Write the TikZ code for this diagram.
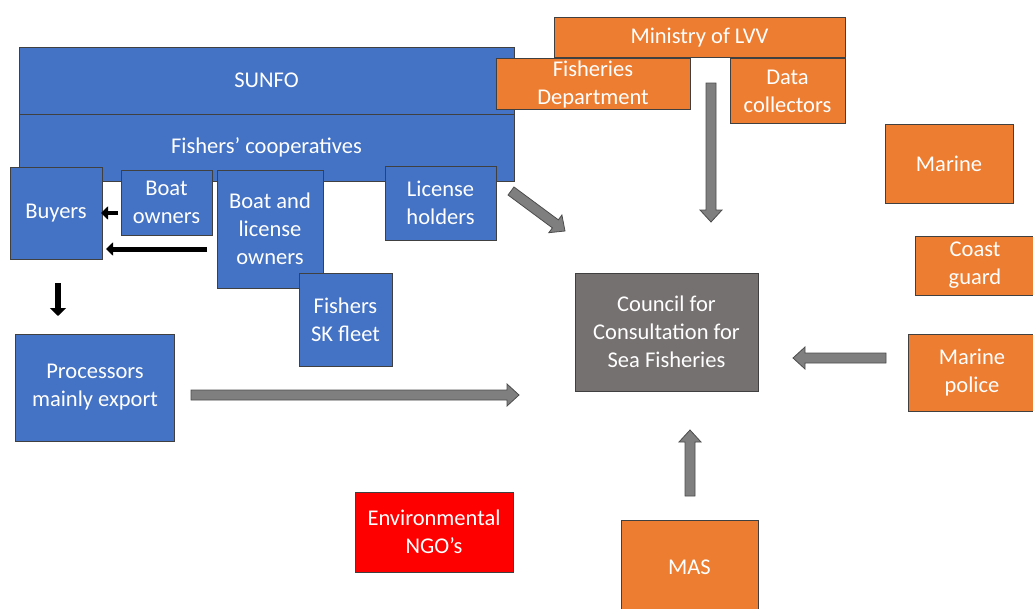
\documentclass[tikz,border=0pt]{standalone}
\usepackage{fontspec}
\setmainfont{Carlito}
\usepackage{xcolor}
\usepackage{tikz}
\usetikzlibrary{positioning,calc,arrows.meta}

\definecolor{boxblue}{HTML}{4472C4}
\definecolor{boxorange}{HTML}{ED7D31}
\definecolor{councilgray}{HTML}{767171}
\definecolor{arrowgray}{HTML}{7F7F7F}
\definecolor{ngored}{HTML}{FF0000}

\tikzset{
  box/.style={draw=black!75, line width=0.8pt, text=white, align=center, inner sep=0pt,
    font=\fontsize{22.5}{28}\selectfont},
  bluebox/.style={box, fill=boxblue},
  orangebox/.style={box, fill=boxorange},
  blackarrow/.style={line width=5pt, -{Triangle[width=13pt,length=7pt]}},
  blockarrow/.style={fill=arrowgray, draw=black!70, line width=0.8pt, line join=miter},
}

% gray block arrow from #1 to #2
\newcommand{\grayarrow}[2]{%
  \coordinate (ga-h) at ($(#2)!12pt!(#1)$);
  \draw[blockarrow] ($(#1)!5pt!90:(#2)$) -- ($(ga-h)!5pt!90:(#2)$) -- ($(ga-h)!11pt!90:(#2)$)
    -- (#2) -- ($(ga-h)!11pt!-90:(#2)$) -- ($(ga-h)!5pt!-90:(#2)$) -- ($(#1)!5pt!-90:(#2)$) -- cycle;}

\begin{document}
\begin{tikzpicture}[x=1pt, y=-1pt]

\useasboundingbox (0,0) rectangle (1033,608);

% Fishers' side
\node[bluebox, minimum width=495pt, minimum height=67pt] (sunfo) at (266.5,80.5) {SUNFO};
\node[bluebox, minimum width=495pt, minimum height=67pt] (coop) at (266.5,147.5) {Fishers’ cooperatives};
\node[bluebox, minimum width=92pt, minimum height=92pt] (buyers) at (56,213) {Buyers};
\node[bluebox, minimum width=91pt, minimum height=65pt] (boatown) at (166.5,202.5) {Boat\\owners};
\node[bluebox, minimum width=106pt, minimum height=118pt] (boatlic) at (270,229) {Boat and\\license\\owners};
\node[bluebox, minimum width=111pt, minimum height=74pt] (lichold) at (440.5,203) {License\\holders};
\node[bluebox, minimum width=93pt, minimum height=93pt] (skfleet) at (345.5,319.5) {Fishers\\SK fleet};
\node[bluebox, minimum width=159pt, minimum height=107pt] (proc) at (95,387.5) {Processors\\mainly export};

% Government side
\node[orangebox, minimum width=291pt, minimum height=40pt] (ministry) at (699.5,37.5) {Ministry of LVV};
\node[orangebox, minimum width=194pt, minimum height=51pt] (fishdep) at (593,84) {Fisheries\\Department};
\node[orangebox, minimum width=115pt, minimum height=65pt] (datacol) at (787.5,91) {Data\\collectors};
\node[orangebox, minimum width=128pt, minimum height=79pt] (marine) at (949,163.5) {Marine};
\node[orangebox, minimum width=120pt, minimum height=59pt] (coast) at (975,265.5) {Coast\\guard};
\node[orangebox, minimum width=128pt, minimum height=77pt] (police) at (972,372.5) {Marine\\police};
\node[orangebox, minimum width=137pt, minimum height=94pt] (mas) at (689.5,567) {MAS};

% Council and NGO
\node[box, fill=councilgray, minimum width=183pt, minimum height=118pt] (council) at (666.5,332)
  {Council for\\Consultation for\\Sea Fisheries};
\node[box, fill=ngored, minimum width=158pt, minimum height=80pt] (ngo) at (434,532) {Environmental\\NGO’s};

% Arrow ends
\coordinate (bo-out) at (118,213);
\coordinate (bo-in) at (101,213);
\coordinate (bl-out) at (207,249);
\coordinate (bl-in) at (106,249);
\coordinate (by-out) at (58,283);
\coordinate (pr-in) at (58,316);
\coordinate (pr-out) at (191,395);
\coordinate (cc-w) at (519,395);
\coordinate (lh-out) at (511,191);
\coordinate (cc-nw) at (565,231);
\coordinate (mi-out) at (711,83);
\coordinate (cc-n) at (711,222);
\coordinate (po-out) at (886,358);
\coordinate (cc-e) at (793,358);
\coordinate (ma-out) at (690,496);
\coordinate (cc-s) at (690,430);

% Black arrows
\draw[blackarrow, line width=4pt] (bo-out) -- (bo-in);
\draw[blackarrow] (bl-out) -- (bl-in);
\draw[line width=6pt, -{Triangle[width=16pt,length=8pt]}] (by-out) -- (pr-in);

% Gray arrows to the council
\grayarrow{pr-out}{cc-w}
\grayarrow{lh-out}{cc-nw}
\grayarrow{mi-out}{cc-n}
\grayarrow{po-out}{cc-e}
\grayarrow{ma-out}{cc-s}

\end{tikzpicture}
\end{document}
